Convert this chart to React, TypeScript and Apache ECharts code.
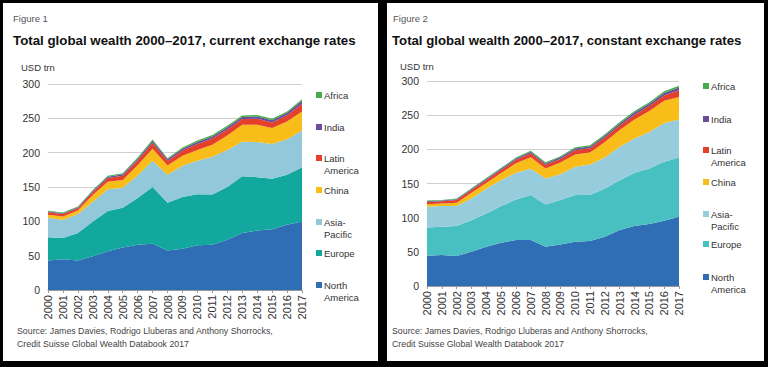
import { useEffect, useRef } from "react";
import * as echarts from "echarts";

const years = ["2000","2001","2002","2003","2004","2005","2006","2007","2008","2009","2010","2011","2012","2013","2014","2015","2016","2017"];
const regionNames = ["North America","Europe","Asia-Pacific","China","Latin America","India","Africa"];
const legendLabels = ["Africa","India","Latin\nAmerica","China","Asia-\nPacific","Europe","North\nAmerica"];
const yTicks = [0, 50, 100, 150, 200, 250, 300];

// Figure 1: current exchange rates (USD trn)
const curNorthAmerica = [43, 44.6, 43, 49, 56.5, 62, 66, 67.5, 57.5, 60, 65, 66, 73, 83, 86.7, 88.6, 95, 99.7];
const curEurope = [33.7, 31.1, 39.9, 50.7, 58.5, 57.8, 68, 82.5, 69.5, 75.6, 74.4, 73, 77, 82.8, 77.6, 73.4, 72.7, 79];
const curAsiaPacific = [28.7, 26.3, 27.8, 28.7, 31.6, 29.2, 32.7, 38.3, 40.7, 45.4, 48.9, 55, 54, 50.2, 51.3, 50.5, 51.8, 53.7];
const curChina = [4.1, 5, 4.9, 10, 11, 11.2, 14.8, 17.5, 13.7, 14.5, 15.5, 17.5, 21, 24.5, 25, 23.5, 26, 27.6];
const curLatinAmerica = [3.8, 3.6, 3.5, 4.5, 5.5, 6.2, 7.4, 8.4, 6.5, 7.5, 8.7, 9, 8.9, 8.4, 8.9, 8, 8.9, 10.7];
const curIndia = [1.2, 1.2, 1.3, 1.6, 1.8, 2, 2.3, 2.8, 2.4, 2.6, 3, 3, 3, 3.1, 3.3, 3.3, 3.6, 4.5];
const curAfrica = [1, 1, 1.1, 1.3, 1.5, 1.6, 1.8, 2, 1.7, 1.9, 2.1, 2.1, 2.2, 2.2, 2.2, 2, 2.1, 2.6];

// Figure 2: constant exchange rates (USD trn)
const conNorthAmerica = [44.3, 45.3, 43.8, 50.2, 57.5, 63.3, 67.2, 67.2, 57.5, 60.9, 64.8, 65.8, 72.1, 81.8, 87.7, 90.6, 95.5, 101.3];
const conEurope = [41.4, 41.4, 43.9, 46.2, 48.7, 53.6, 59.4, 65.8, 61.8, 64.8, 68.2, 67.2, 70.6, 73.1, 77.9, 81.3, 86.2, 86.7];
const conAsiaPacific = [30.2, 30.2, 29.2, 31.7, 36.5, 38, 39, 38.5, 38, 38, 41.4, 44.8, 45.3, 48.7, 50.2, 53.6, 57, 55.5];
const conChina = [3.7, 3.7, 5, 8.2, 8.2, 10.4, 14, 17, 14.8, 17, 18, 17.7, 22.9, 24.8, 27.8, 30.5, 32.4, 33];
const conLatinAmerica = [3.4, 3.4, 3.9, 4.2, 4.3, 4.6, 5, 5.8, 5.2, 5.3, 6.3, 6, 6.3, 6.5, 7, 7.3, 7.8, 10];
const conIndia = [1, 1, 1.1, 1.3, 1.5, 1.7, 1.9, 2.1, 2.1, 2.3, 2.5, 2.6, 2.8, 3, 3.2, 3.4, 3.7, 4];
const conAfrica = [1, 1, 1.1, 1.2, 1.3, 1.4, 1.5, 1.6, 1.6, 1.7, 1.8, 1.9, 2, 2.1, 2.2, 2.3, 2.4, 2.5];

const colors1 = ["#2f6db4", "#13a89d", "#93c8da", "#f8bd19", "#e5402a", "#6b4c9b", "#43ac4b"];
const colors2 = ["#2f6db4", "#48c0c2", "#97ccdc", "#f8bd19", "#e5402a", "#6b4c9b", "#43ac4b"];

const FONT = "Liberation Sans, Arial, Helvetica, sans-serif";

export default function App() {
  const ref = useRef<HTMLDivElement>(null);
  useEffect(() => {
    if (!ref.current) return;
    const chart = echarts.init(ref.current, null, { renderer: "svg" });
    const data1 = [curNorthAmerica, curEurope, curAsiaPacific, curChina, curLatinAmerica, curIndia, curAfrica];
    const data2 = [conNorthAmerica, conEurope, conAsiaPacific, conChina, conLatinAmerica, conIndia, conAfrica];

    const grids = [
      { left: 48, right: 768 - 302, top: 84, bottom: 367 - 290 },
      { left: 427, right: 768 - 679, top: 81, bottom: 367 - 286 },
    ];
    const xAxes = [0, 1].map((i) => ({
      type: "category",
      gridIndex: i,
      data: years,
      boundaryGap: false,
      axisLine: { show: true, lineStyle: { color: "#9a9a9a", width: 1 } },
      axisTick: { show: true, length: 3, lineStyle: { color: "#9a9a9a" } },
      axisLabel: { rotate: 90, fontSize: 11, color: "#333", margin: 5, fontFamily: FONT, interval: 0 },
    }));
    const yAxes = [0, 1].map((i) => ({
      type: "value",
      gridIndex: i,
      min: yTicks[0],
      max: yTicks[yTicks.length - 1],
      interval: 50,
      axisLine: { show: false },
      axisTick: { show: false },
      axisLabel: { fontSize: 10.5, color: "#333", margin: 8, fontFamily: FONT },
      splitLine: { show: true, lineStyle: { color: "#cfcfcf", width: 1 } },
    }));
    const series: any[] = [];
    [data1, data2].forEach((dset, gi) => {
      const cols = gi === 0 ? colors1 : colors2;
      dset.forEach((arr, k) => {
        series.push({
          name: regionNames[k],
          type: "line",
          xAxisIndex: gi,
          yAxisIndex: gi,
          stack: "s" + gi,
          data: arr,
          showSymbol: false,
          symbol: "none",
          lineStyle: { width: 0 },
          areaStyle: { color: cols[k], opacity: 1 },
          itemStyle: { color: cols[k] },
          z: 2,
        });
      });
    });

    const legendYs1 = [95, 127, 158, 190, 222, 253, 285];
    const legendYs2 = [86, 119, 150, 182, 214, 244, 277];
    const legendColorIdx = [6, 5, 4, 3, 2, 1, 0];
    const graphics: any[] = [
      { type: "rect", shape: { x: 3, y: 3, width: 375, height: 358 }, style: { fill: "#fff" }, z: -10, silent: true },
      { type: "rect", shape: { x: 387, y: 3, width: 377, height: 358 }, style: { fill: "#fff" }, z: -10, silent: true },
      { type: "text", x: 13, y: 18, style: { text: "Figure 1", fontSize: 9.5, fill: "#555", fontFamily: FONT, verticalAlign: "middle" } },
      { type: "text", x: 13, y: 40, style: { text: "Total global wealth 2000\u20132017, current exchange rates", fontSize: 13.3, fontWeight: "bold", fill: "#111", fontFamily: FONT, verticalAlign: "middle" } },
      { type: "text", x: 21, y: 67, style: { text: "USD trn", fontSize: 9.5, fill: "#333", fontFamily: FONT, verticalAlign: "middle" } },
      { type: "text", x: 17, y: 337, style: { text: "Source: James Davies, Rodrigo Lluberas and Anthony Shorrocks,\nCredit Suisse Global Wealth Databook 2017", fontSize: 8.8, lineHeight: 13, fill: "#444", fontFamily: FONT, verticalAlign: "middle" } },
      { type: "text", x: 393, y: 18, style: { text: "Figure 2", fontSize: 9.5, fill: "#555", fontFamily: FONT, verticalAlign: "middle" } },
      { type: "text", x: 392, y: 40, style: { text: "Total global wealth 2000\u20132017, constant exchange rates", fontSize: 13.2, fontWeight: "bold", fill: "#111", fontFamily: FONT, verticalAlign: "middle" } },
      { type: "text", x: 400, y: 66, style: { text: "USD trn", fontSize: 9.5, fill: "#333", fontFamily: FONT, verticalAlign: "middle" } },
      { type: "text", x: 392, y: 337, style: { text: "Source: James Davies, Rodrigo Lluberas and Anthony Shorrocks,\nCredit Suisse Global Wealth Databook 2017", fontSize: 8.8, lineHeight: 13, fill: "#444", fontFamily: FONT, verticalAlign: "middle" } },
    ];
    legendLabels.forEach((lab, i) => {
      const ci = legendColorIdx[i];
      graphics.push({ type: "rect", shape: { x: 316, y: legendYs1[i] - 3, width: 6, height: 6 }, style: { fill: colors1[ci] } });
      graphics.push({ type: "text", x: 324, y: legendYs1[i] - 6, style: { text: lab, fontSize: 9.5, lineHeight: 12, fill: "#333", fontFamily: FONT, verticalAlign: "top" } });
      graphics.push({ type: "rect", shape: { x: 703, y: legendYs2[i] - 3, width: 6, height: 6 }, style: { fill: colors2[ci] } });
      graphics.push({ type: "text", x: 711, y: legendYs2[i] - 6, style: { text: lab, fontSize: 9.5, lineHeight: 12, fill: "#333", fontFamily: FONT, verticalAlign: "top" } });
    });

    chart.setOption({
      animation: false,
      backgroundColor: "#000",
      textStyle: { fontFamily: FONT },
      grid: grids,
      xAxis: xAxes,
      yAxis: yAxes,
      series,
      graphic: graphics,
    });
    return () => chart.dispose();
  }, []);
  return <div ref={ref} style={{ position: "fixed", left: 0, top: 0, width: 768, height: 367 }} />;
}
